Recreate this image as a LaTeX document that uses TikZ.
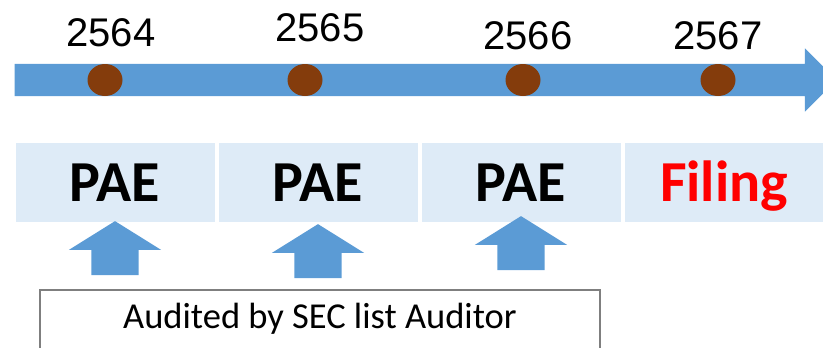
\documentclass[tikz,border=0pt]{standalone}
\usepackage{fontspec}
\setmainfont{Carlito}
\newfontfamily\yearfont{Liberation Sans}
\usetikzlibrary{positioning,shapes.arrows,shapes.geometric}
\definecolor{lineblue}{HTML}{5B9BD5}
\definecolor{dotbrown}{HTML}{843C0C}
\definecolor{cellblue}{HTML}{DEEBF7}
\definecolor{boxgray}{HTML}{7F7F7F}

\begin{document}
\begin{tikzpicture}[x=1pt,y=-1pt,node distance=203pt,on grid,
  year/.style={inner sep=0pt,font=\yearfont\fontsize{40}{42}\selectfont},
  dot/.style={ellipse,fill=dotbrown,inner sep=0pt,minimum width=35pt,minimum height=32pt},
  cell/.style={fill=cellblue,inner sep=0pt,minimum width=199pt,minimum height=79pt,
    text height=37pt,text depth=0pt,font=\bfseries\fontsize{58}{62}\selectfont},
  uparrow/.style={single arrow,fill=lineblue,rotate=90,inner xsep=0pt,inner ysep=23.5pt,
    minimum height=54pt,minimum width=92pt,single arrow head extend=22.5pt,
    single arrow tip angle=116}]
  \clip (0,0) rectangle (823,348);
  \node[single arrow,fill=lineblue,inner xsep=0pt,inner ysep=16pt,minimum height=822pt,
    minimum width=63pt,single arrow head extend=15.5pt] (line) at (417.5,80) {};
  \node[dot] (d0) at (105,80) {};
  \node[dot] (d1) at (305,80) {};
  \node[dot] (d2) at (523,80) {};
  \node[dot] (d3) at (718,80) {};
  \node[year] (y0) [above=47pt of d0,xshift=6pt] {2564};
  \node[year] (y1) [above=52pt of d1,xshift=15pt] {2565};
  \node[year] (y2) [above=44pt of d2,xshift=5pt] {2566};
  \node[year] (y3) [above=44pt of d3] {2567};
  \node[cell] (p0) at (115,182.5) {PAE};
  \node[cell] (p1) [right=of p0] {PAE};
  \node[cell] (p2) [right=of p1] {PAE};
  \node[cell,text=red] (p3) [right=of p2] {Filing};
  \node[uparrow] (u0) [below=73pt of p0] {};
  \node[uparrow] (u1) [below=73pt of p1,xshift=-3pt] {};
  \node[uparrow] (u2) [below=73pt of p2,xshift=5pt] {};
  \node[draw=boxgray,line width=2pt,anchor=north,minimum width=560pt,inner ysep=14pt,
    text height=24pt,text depth=40pt,font=\fontsize{36.5}{40}\selectfont] (aud) at (320,289)
    {Audited by SEC list Auditor};
\end{tikzpicture}
\end{document}
